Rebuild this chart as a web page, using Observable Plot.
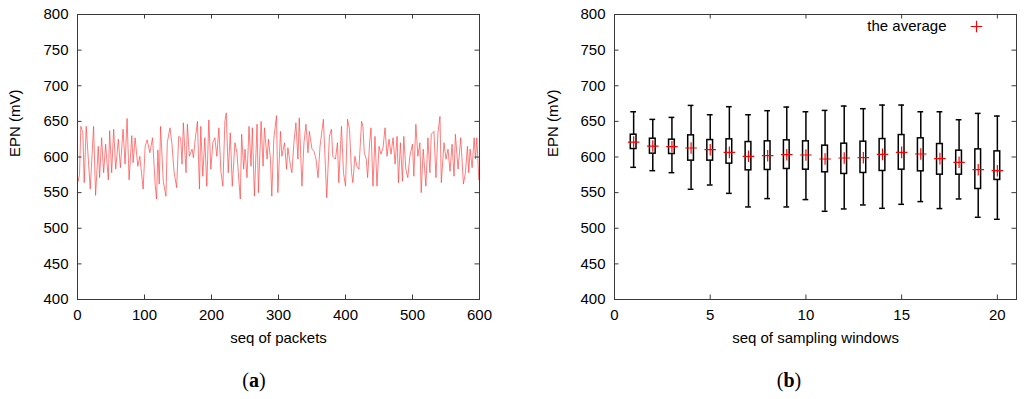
<!DOCTYPE html>
<html><head><meta charset="utf-8">
<script src="https://cdn.jsdelivr.net/npm/d3@7"></script>
<script src="https://cdn.jsdelivr.net/npm/@observablehq/plot@0.6"></script>
<style>
body{margin:0;background:#fff;}
#wrap{position:relative;width:1024px;height:399px;overflow:hidden;font-family:"Liberation Sans",Arial,sans-serif;}
.panel{position:absolute;top:0;}
.cap{position:absolute;top:368px;width:60px;text-align:center;font-family:"Liberation Serif","Times New Roman",serif;font-size:20px;line-height:24px;color:#000;}
</style></head><body>
<div id="wrap">
<div id="a" class="panel" style="left:0"></div>
<div id="b" class="panel" style="left:512px"></div>
<div class="cap" style="left:224px">(<b>a</b>)</div>
<div class="cap" style="left:759px">(<b>b</b>)</div>
</div>
<script>
// ---- Panel (a): EPN per packet ----
const seqA = [0,1,3,5,8,10,13,19,24,27,31,33,36,39,42,46,48,51,54,57,61,64,68,71,74,77,81,83,86,90,93,98,101,104,108,112,116,118,
120,122,124,128,132,134,138,141,144,148,151,154,156,158,162,164,167,171,173,176,179,182,184,187,190,193,196,199,202,205,208,211,214,217,220,222,225,228,231,235,238,240,
243,245,248,250,253,256,259,261,264,268,270,274,277,279,283,285,288,290,293,297,299,303,305,309,312,314,318,320,323,326,329,331,335,338,341,344,346,350,353,356,359,
362,367,370,372,376,379,381,385,388,390,394,397,400,403,406,409,411,414,417,420,424,426,428,431,433,436,438,441,444,447,450,453,456,459,462,465,468,471,474,477,479,482,
485,487,490,493,496,500,502,505,508,511,513,516,520,523,526,528,532,535,538,541,543,547,550,553,556,559,562,564,568,572,576,579,582,584,586,589,592,594,596,599,600];
const epnA = [572,566,575,643,634,564,643,555,643,546,615,571,627,578,618,568,637,578,639,583,625,585,639,590,654,568,630,592,627,587,601,555,615,624,606,627,560,541,
610,562,643,566,545,620,641,618,580,557,629,627,590,648,578,646,601,611,599,627,650,555,643,573,627,559,652,583,620,627,601,641,580,559,650,662,578,634,559,620,606,578,
541,632,583,611,571,643,587,641,545,646,550,650,587,641,597,625,597,545,625,658,550,636,601,620,583,613,587,578,620,648,597,655,559,620,646,606,636,611,608,597,571,
615,653,587,543,629,639,601,597,620,564,643,578,559,653,639,578,564,601,587,583,650,643,606,597,571,620,641,559,629,559,615,604,613,641,601,625,604,627,590,629,564,620,
566,629,583,571,601,618,573,646,601,620,550,611,559,627,578,632,636,571,634,657,564,620,597,611,580,618,573,632,583,627,562,578,615,578,611,585,627,597,627,568,569];
const xTicksA = [0,100,200,300,400,500,600];
const yTicks = [400,450,500,550,600,650,700,750,800];

// ---- Panel (b): box plots per sampling window ----
const windows    = [1,2,3,4,5,6,7,8,9,10,11,12,13,14,15,16,17,18,19,20];
const whiskerMax = [663.5,652.8,655.6,672.4,659.3,670.6,659.3,665.0,670.1,663.5,665.4,671.5,667.8,672.9,672.9,663.5,663.5,652.3,661.2,657.5];
const q3         = [631.3,625.7,624.3,630.4,623.8,624.8,621.0,622.0,623.4,622.0,615.9,618.7,621.5,625.2,630.8,626.2,618.2,608.9,610.7,607.9];
const q1         = [611.2,604.7,604.2,594.9,594.9,590.7,581.3,581.8,583.2,582.2,578.5,576.2,577.6,580.4,582.2,579.9,575.2,575.2,555.1,567.8];
const whiskerMin = [585.5,580.8,578.0,554.7,560.7,549.0,529.9,541.6,529.9,540.2,523.8,527.1,532.7,528.0,533.6,537.4,527.6,541.1,515.4,512.6];
const average    = [621.0,615.4,614.5,612.6,610.3,606.5,600.9,601.9,603.3,602.8,597.2,598.6,599.1,603.7,606.5,604.2,597.7,592.5,582.2,580.8];
const xTicksB = [0,5,10,15,20];
const legendLabels = ["the average"];

const lineData = seqA.map((s,i)=>({seq:s, epn:epnA[i]}));
const boxes = windows.map((w,i)=>({w, lo:whiskerMin[i], q1:q1[i], q3:q3[i], hi:whiskerMax[i], avg:average[i]}));

const FR = "#3a3a3a";
const common = {
  width: 512, height: 350, marginTop: 14, marginBottom: 51,
  style: {fontFamily: "'Liberation Sans', Arial, sans-serif", fontSize: "15px", color: "#000", background: "transparent", overflow: "visible"}
};
function frameMarks(xt) {
  return [
    Plot.frame({stroke: FR, strokeWidth: 1}),
    Plot.tickX(xt, {x: d=>d, insetTop: 280.5, stroke: FR}),
    Plot.tickX(xt, {x: d=>d, insetBottom: 280.5, stroke: FR}),
    Plot.tickY(yTicks, {y: d=>d, insetRight: 397.5, stroke: FR}),
    Plot.tickY(yTicks, {y: d=>d, insetLeft: 397.5, stroke: FR}),
    Plot.axisX(xt, {tickSize: 0, tickPadding: 10, label: null}),
    Plot.axisY(yTicks, {tickSize: 0, tickPadding: 9, label: null})
  ];
}

const plotA = Plot.plot({
  ...common, marginLeft: 77, marginRight: 33,
  x: {domain: [0, 600]}, y: {domain: [400, 800]},
  marks: [
    Plot.line(lineData, {x: "seq", y: "epn", stroke: "#ff4545", strokeWidth: 0.7}),
    ...frameMarks(xTicksA),
    Plot.text(["seq of packets"], {frameAnchor: "bottom", dy: 39, lineAnchor: "middle", text: d=>d, fontSize: 15}),
    Plot.text(["EPN (mV)"], {frameAnchor: "left", dx: -62, rotate: -90, text: d=>d, fontSize: 15})
  ]
});
document.getElementById("a").appendChild(plotA);

const plotB = Plot.plot({
  ...common, marginLeft: 102, marginRight: 8,
  x: {domain: [0, 21]}, y: {domain: [400, 800]},
  marks: [
    Plot.ruleX(boxes, {x: "w", y1: "lo", y2: "q1", stroke: "#000", strokeWidth: 1.5}),
    Plot.ruleX(boxes, {x: "w", y1: "q3", y2: "hi", stroke: "#000", strokeWidth: 1.5}),
    Plot.ruleY(boxes, {y: "lo", x1: d=>d.w-0.15, x2: d=>d.w+0.15, stroke: "#000", strokeWidth: 1.5}),
    Plot.ruleY(boxes, {y: "hi", x1: d=>d.w-0.15, x2: d=>d.w+0.15, stroke: "#000", strokeWidth: 1.5}),
    Plot.rect(boxes, {x1: d=>d.w-0.15, x2: d=>d.w+0.15, y1: "q1", y2: "q3", fill: "white", stroke: "#000", strokeWidth: 1.5}),
    Plot.dot(boxes, {x: "w", y: "avg", symbol: "plus", r: 3.8, stroke: "#ff0000", strokeWidth: 1.2}),
    ...frameMarks(xTicksB),
    Plot.text(legendLabels, {frameAnchor: "top-right", dx: -70, dy: 12, textAnchor: "end", lineAnchor: "middle", text: d=>d, fontSize: 15}),
    Plot.dot(legendLabels, {frameAnchor: "top-right", dx: -40, dy: 12, symbol: "plus", r: 3.8, stroke: "#ff0000", strokeWidth: 1.2}),
    Plot.text(["seq of sampling windows"], {frameAnchor: "bottom", dy: 39, lineAnchor: "middle", text: d=>d, fontSize: 15}),
    Plot.text(["EPN (mV)"], {frameAnchor: "left", dx: -61, rotate: -90, text: d=>d, fontSize: 15})
  ]
});
document.getElementById("b").appendChild(plotB);
</script>
</body></html>
